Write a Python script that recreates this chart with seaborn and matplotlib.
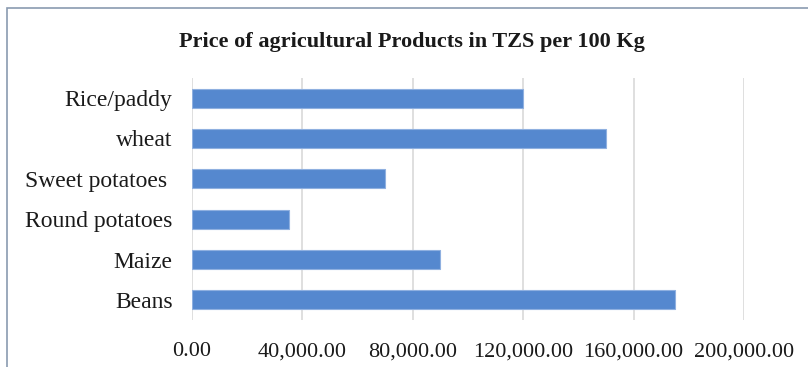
import numpy as np
import pandas as pd
import matplotlib.pyplot as plt
import seaborn as sns
from matplotlib.patches import Rectangle
from matplotlib.ticker import FuncFormatter

# datos
products = ['Rice/paddy', 'wheat', 'Sweet potatoes ', 'Round potatoes', 'Maize', 'Beans']
prices = [120000, 150000, 70000, 35000, 90000, 175000]
x_ticks = [0, 40000, 80000, 120000, 160000, 200000]

df = pd.DataFrame({'product': products, 'price': prices})

sns.set_theme(style='white')
plt.rcParams['font.family'] = ['Liberation Serif', 'DejaVu Serif']

fig = plt.figure(figsize=(8.08, 3.67), dpi=100)
ax = fig.add_axes([192 / 808, 1 - 320 / 367, (744 - 192) / 808, (320 - 78) / 367])

sns.barplot(data=df, x='price', y='product', orient='h', color='#5588cf',
            width=0.47, edgecolor='#8fb0e0', linewidth=0.8, saturation=1, ax=ax, zorder=3)

ax.set_xlim(0, 200000)
ax.set_xticks(x_ticks)
ax.xaxis.set_major_formatter(FuncFormatter(lambda v, p: f'{v:,.2f}'))
ax.grid(axis='x', color='#d9d9d9', linewidth=1.2, zorder=0)
ax.set_axisbelow(True)
for s in ax.spines.values():
    s.set_visible(False)
ax.tick_params(axis='both', length=0, colors='#1a1a1a')
ax.tick_params(axis='y', pad=14, labelsize=17)
ax.tick_params(axis='x', pad=16, labelsize=16)
ax.set_xlabel('')
ax.set_ylabel('')

fig.text(412 / 808, 1 - 42 / 367, 'Price of agricultural Products in TZS per 100 Kg',
         ha='center', va='center', fontsize=16, fontweight='bold', color='#1a1a1a')

# marco del grafico
fig.patches.append(Rectangle((7 / 808, -0.1), 1.2, 1 - 8 / 367 + 0.1, transform=fig.transFigure,
                             fill=False, edgecolor='#8a9bb0', linewidth=1.2))

plt.savefig('out.png', dpi=100)
plt.close()
